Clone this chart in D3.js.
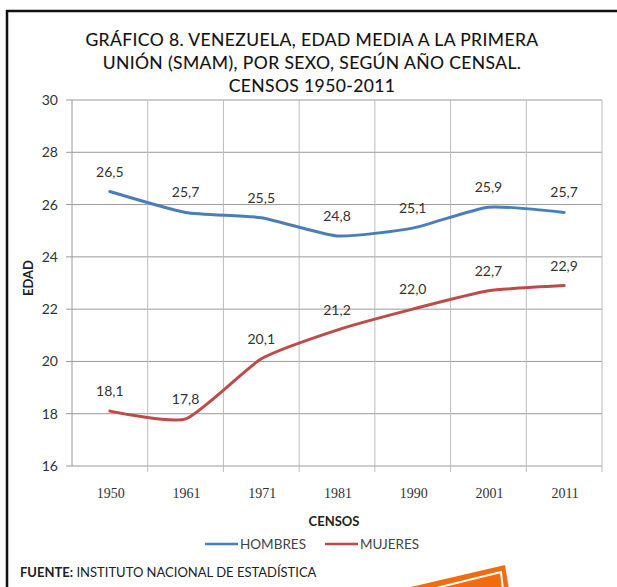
<!DOCTYPE html>
<html>
<head>
<meta charset="utf-8">
<script src="https://cdn.jsdelivr.net/npm/d3@7"></script>
<style>
  body { margin: 0; background: #fff; }
  svg { display: block; }
</style>
</head>
<body>
<svg id="chart" width="617" height="587"></svg>
<script>
// datos del grafico
var years = ["1950", "1961", "1971", "1981", "1990", "2001", "2011"];
var hombres = [26.5, 25.7, 25.5, 24.8, 25.1, 25.9, 25.7];
var mujeres = [18.1, 17.8, 20.1, 21.2, 22.0, 22.7, 22.9];
var yTicks = [16, 18, 20, 22, 24, 26, 28, 30];
var titleLines = ["GRÁFICO 8. VENEZUELA, EDAD MEDIA A LA PRIMERA",
                  "UNIÓN (SMAM), POR SEXO, SEGÚN AÑO CENSAL.",
                  "CENSOS 1950-2011"];
var seriesNames = ["HOMBRES", "MUJERES"];
var colors = ["#4a7ebb", "#be4b48"];

var svg = d3.select("#chart");
var font = "Lato, 'Open Sans', sans-serif";

// marco
svg.append("line").attr("x1", 6).attr("x2", 617).attr("y1", 11).attr("y2", 11)
  .attr("stroke", "#111").attr("stroke-width", 2.5);
svg.append("line").attr("x1", 7).attr("x2", 7).attr("y1", 10).attr("y2", 587)
  .attr("stroke", "#111").attr("stroke-width", 2.5);

// titulo
svg.selectAll("text.title").data(titleLines).enter().append("text")
  .attr("class", "title")
  .attr("x", 312)
  .attr("y", function(d, i){ return 46 + i * 23; })
  .attr("text-anchor", "middle")
  .attr("font-family", font)
  .attr("font-size", "17.5px")
  .attr("letter-spacing", "0.4px")
  .attr("fill", "#111")
  .attr("stroke", "#111").attr("stroke-width", 0.12)
  .text(function(d){ return d; });

var x = d3.scaleBand().domain(years).range([72, 602]);
var y = d3.scaleLinear().domain([16, 30]).range([466, 100]);

// rejilla horizontal
svg.selectAll("line.hgrid").data(yTicks).enter().append("line")
  .attr("x1", 66).attr("x2", 602)
  .attr("y1", function(d){ return y(d); }).attr("y2", function(d){ return y(d); })
  .attr("stroke", "#9a9a9a").attr("stroke-width", 1);

// rejilla vertical
var bounds = years.map(function(d){ return x(d) + x.bandwidth(); });
svg.selectAll("line.vgrid").data(bounds).enter().append("line")
  .attr("x1", function(d){ return d; }).attr("x2", function(d){ return d; })
  .attr("y1", 100).attr("y2", 472)
  .attr("stroke", "#bdbdbd").attr("stroke-width", 1);

svg.append("line").attr("x1", 72).attr("x2", 72).attr("y1", 100).attr("y2", 466)
  .attr("stroke", "#9a9a9a");

// etiquetas de ejes
svg.selectAll("text.ytick").data(yTicks).enter().append("text")
  .attr("x", 58).attr("y", function(d){ return y(d) + 5; })
  .attr("text-anchor", "end")
  .attr("font-family", font).attr("font-size", "14px").attr("fill", "#333")
  .text(function(d){ return d; });

svg.selectAll("text.xtick").data(years).enter().append("text")
  .attr("x", function(d){ return x(d) + x.bandwidth() / 2 + 1; })
  .attr("y", 498)
  .attr("text-anchor", "middle")
  .attr("font-family", "'Liberation Serif', serif").attr("font-size", "14px").attr("fill", "#333")
  .text(function(d){ return d; });

svg.append("text").attr("transform", "translate(33,278) rotate(-90)")
  .attr("text-anchor", "middle")
  .attr("font-family", font).attr("font-weight", "bold").attr("font-size", "13px").attr("fill", "#222")
  .text("EDAD");

svg.append("text").attr("x", 334).attr("y", 526)
  .attr("text-anchor", "middle")
  .attr("font-family", font).attr("font-weight", "bold").attr("font-size", "13px").attr("fill", "#222")
  .text("CENSOS");

// lineas
var line = d3.line()
  .x(function(d, i){ return x(years[i]) + x.bandwidth() / 2; })
  .y(function(d){ return y(d); })
  .curve(d3.curveCardinal.tension(0.45));

[hombres, mujeres].forEach(function(vals, k){
  svg.append("path").datum(vals)
    .attr("d", line)
    .attr("fill", "none")
    .attr("stroke", colors[k])
    .attr("stroke-width", 3)
    .attr("stroke-linecap", "round");

  svg.selectAll("text.lab" + k).data(vals).enter().append("text")
    .attr("x", function(d, i){ return x(years[i]) + x.bandwidth() / 2; })
    .attr("y", function(d){ return y(d) - 15; })
    .attr("text-anchor", "middle")
    .attr("font-family", font).attr("font-size", "14px").attr("fill", "#333")
    .text(function(d){ return d.toFixed(1).replace(".", ","); });
});

// leyenda
var legX = [205, 325];
seriesNames.forEach(function(name, k){
  svg.append("line").attr("x1", legX[k]).attr("x2", legX[k] + 33)
    .attr("y1", 544).attr("y2", 544)
    .attr("stroke", colors[k]).attr("stroke-width", 2.5);
  svg.append("text").attr("x", legX[k] + 35).attr("y", 549)
    .attr("font-family", font).attr("font-size", "13.5px").attr("fill", "#444")
    .text(name);
});

// fuente
var f = svg.append("text").attr("x", 20).attr("y", 577)
  .attr("font-family", font).attr("font-size", "13px").attr("fill", "#222");
f.append("tspan").attr("font-weight", "bold").text("FUENTE:");
f.append("tspan").text(" INSTITUTO NACIONAL DE ESTADÍSTICA");

// figura naranja
svg.append("polygon").attr("points", "398,590 505,565 509,590")
  .attr("fill", "#f26b0f");
svg.append("polyline").attr("points", "428,590 501,572 503,590")
  .attr("fill", "none").attr("stroke", "#fff").attr("stroke-width", 2);
</script>
</body>
</html>
